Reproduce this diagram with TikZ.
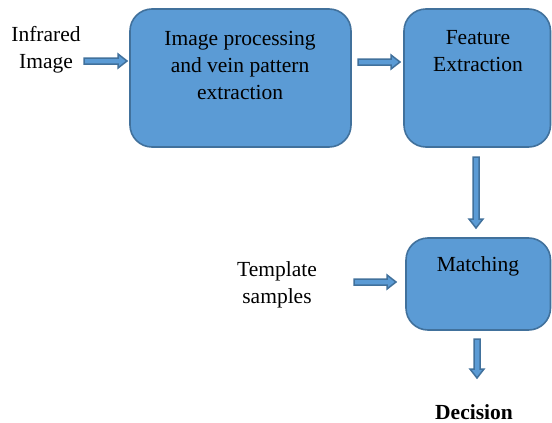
\documentclass[tikz,border=0pt]{standalone}
\usepackage{fontspec}
\setmainfont{Liberation Serif}
\definecolor{boxfill}{HTML}{5B9BD5}
\definecolor{boxline}{HTML}{41719C}
\newcommand{\harrow}[4]{% name, x1, x2, y
  \path[blockarrow] (#2,#4-3) -- (#3-9,#4-3) -- (#3-9,#4-7) -- (#3,#4) -- (#3-9,#4+7) -- (#3-9,#4+3) -- (#2,#4+3) -- cycle;
  \coordinate (#1) at (#3,#4);}
\newcommand{\varrow}[4]{% name, x, y1, y2
  \path[blockarrow] (#2-3,#3) -- (#2-3,#4-9) -- (#2-7,#4-9) -- (#2,#4) -- (#2+7,#4-9) -- (#2+3,#4-9) -- (#2+3,#3) -- cycle;
  \coordinate (#1) at (#2,#4);}
\begin{document}
\begin{tikzpicture}[x=1pt,y=-1pt,
  procbox/.style={draw=boxline,fill=boxfill,line width=1.6pt,rounded corners=22pt},
  blockarrow/.style={draw=boxline,fill=boxfill,line width=1.5pt,line join=miter},
  lbl/.style={font=\fontsize{21.5}{27}\selectfont,align=center,inner sep=0pt}]
\useasboundingbox (0,0) rectangle (552,423);
\fill[white] (0,0) rectangle (552,423);
\path[procbox] (130,9) rectangle (351,147);
\path[procbox] (404,9) rectangle (550.5,147);
\path[procbox] (406,238) rectangle (550.5,330);
\node[lbl] (proc) at (240,65) {Image processing\\and vein pattern\\extraction};
\node[lbl] (feat) at (478,51) {Feature\\Extraction};
\node[lbl] (match) at (478,266) {Matching};
\node[lbl] (inf) at (46,50) {Infrared\\Image};
\node[lbl] (tmpl) at (277,285) {Template\\samples};
\node[lbl,font=\fontsize{21.5}{27}\selectfont\bfseries] (dec) at (474,412) {Decision};
\harrow{a1}{84}{127}{61}
\harrow{a2}{358}{400}{62}
\varrow{a3}{476}{157}{228}
\harrow{a4}{354}{396}{282}
\varrow{a5}{477}{339}{378}
\end{tikzpicture}
\end{document}
